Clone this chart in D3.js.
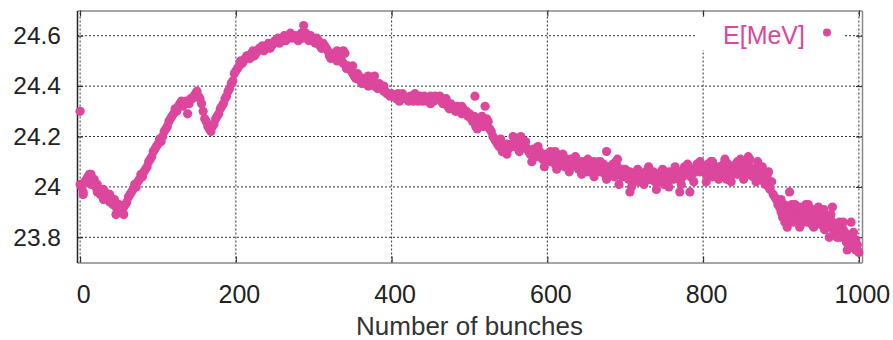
<!DOCTYPE html>
<html>
<head>
<meta charset="utf-8">
<script src="https://cdn.jsdelivr.net/npm/d3@7"></script>
<style>
  body { margin: 0; background: #fff; }
  text { font-family: "Liberation Sans", Arial, sans-serif; }
</style>
</head>
<body>
<div id="chart"></div>
<script>
// datos: energia por bunch, un valor cada 4 bunches (0..1000)
var paso = 4
var energia = [
  24.01,23.98,24.03,24.05,24.02,24.00,23.99,23.97,23.98,23.96,23.94,23.95,23.91,23.90,23.92,23.94,23.97,23.99,24.00,24.03,24.04,24.07,24.10,24.12,24.15,
  24.17,24.18,24.22,24.24,24.27,24.29,24.30,24.33,24.32,24.34,24.33,24.35,24.37,24.36,24.33,24.27,24.24,24.22,24.25,24.28,24.31,24.33,24.36,24.39,24.42,
  24.46,24.48,24.49,24.51,24.52,24.53,24.52,24.54,24.55,24.54,24.56,24.55,24.57,24.58,24.57,24.59,24.58,24.60,24.59,24.60,24.58,24.61,24.60,24.59,24.60,
  24.58,24.59,24.56,24.57,24.55,24.52,24.53,24.51,24.52,24.50,24.53,24.48,24.46,24.44,24.45,24.42,24.43,24.41,24.43,24.42,24.40,24.41,24.39,24.38,24.37,
  24.37,24.36,24.37,24.35,24.36,24.35,24.36,24.34,24.35,24.36,24.34,24.35,24.34,24.35,24.36,24.35,24.34,24.33,24.32,24.33,24.31,24.32,24.30,24.31,24.30,
  24.29,24.26,24.24,24.27,24.28,24.25,24.26,24.22,24.19,24.17,24.16,24.15,24.17,24.16,24.17,24.18,24.19,24.18,24.16,24.14,24.13,24.14,24.12,24.13,24.11,
  24.12,24.10,24.11,24.13,24.10,24.09,24.11,24.08,24.10,24.09,24.07,24.10,24.08,24.09,24.07,24.10,24.08,24.06,24.09,24.07,24.05,24.08,24.10,24.06,24.04,
  24.07,24.03,24.05,24.02,24.06,24.04,24.02,24.05,24.03,24.06,24.04,24.02,24.05,24.03,24.06,24.04,24.07,24.03,24.05,24.08,24.06,24.04,24.07,24.09,24.06,
  24.08,24.05,24.07,24.04,24.06,24.08,24.05,24.07,24.09,24.06,24.08,24.05,24.07,24.10,24.06,24.08,24.04,24.06,24.03,24.05,24.01,24.00,24.02,23.96,23.93,
  23.90,23.93,23.88,23.91,23.86,23.90,23.92,23.87,23.90,23.88,23.91,23.86,23.89,23.85,23.88,23.84,23.87,23.82,23.85,23.80,23.83,23.78,23.80,23.76,23.75,
  23.74
]
// segunda lectura, bunches 2, 6, 10 ... 998
var energia2 = [
  24.00,24.02,24.04,24.01,24.03,23.98,23.97,23.99,23.96,23.97,23.93,23.92,23.93,23.91,23.93,23.96,23.98,24.01,24.02,24.05,24.06,24.08,24.11,24.14,24.16,
  24.19,24.20,24.23,24.26,24.28,24.31,24.32,24.34,24.33,24.29,24.35,24.36,24.38,24.35,24.30,24.26,24.23,24.24,24.27,24.29,24.32,24.35,24.38,24.41,24.45,
  24.47,24.50,24.50,24.52,24.51,24.54,24.53,24.55,24.56,24.55,24.57,24.56,24.58,24.59,24.58,24.60,24.59,24.61,24.60,24.59,24.60,24.59,24.61,24.58,24.59,
  24.57,24.58,24.55,24.56,24.54,24.51,24.52,24.50,24.51,24.49,24.47,24.47,24.45,24.43,24.44,24.41,24.42,24.40,24.41,24.40,24.39,24.40,24.38,24.37,24.36,
  24.36,24.35,24.36,24.37,24.35,24.34,24.35,24.36,24.34,24.35,24.36,24.34,24.36,24.34,24.35,24.36,24.33,24.34,24.31,24.32,24.30,24.31,24.29,24.30,24.28,
  24.27,24.28,24.25,24.26,24.24,24.27,24.23,24.20,24.18,24.16,24.14,24.16,24.15,24.17,24.16,24.19,24.17,24.17,24.15,24.13,24.15,24.12,24.14,24.11,24.13,
  24.11,24.12,24.09,24.11,24.12,24.08,24.10,24.11,24.08,24.10,24.08,24.07,24.10,24.06,24.09,24.07,24.10,24.07,24.05,24.08,24.06,24.04,24.08,24.05,24.07,
  24.05,24.06,24.03,24.04,24.02,24.05,24.06,24.03,24.04,24.02,24.05,24.06,24.04,24.02,24.05,24.03,24.05,24.06,24.04,24.06,24.07,24.05,24.06,24.08,24.07,
  24.07,24.09,24.06,24.08,24.05,24.07,24.09,24.06,24.07,24.05,24.09,24.07,24.06,24.08,24.05,24.07,24.05,24.08,24.04,24.02,24.04,23.99,23.97,23.95,23.92,
  23.88,23.91,23.89,23.93,23.88,23.87,23.90,23.89,23.86,23.90,23.88,23.90,23.87,23.89,23.86,23.85,23.86,23.83,23.84,23.81,23.82,23.79,23.77,23.78,23.75
]
// puntos sueltos (dispersion y outliers): bunch, energia
var extraX = [0,287,338,378,507,520,566,610,650,676,690,706,730,750,770,783,810,830,848,858,870,876,882,905,911,918,925,935,942,955,962,966,975,985,990,993,998,
  4,14,22,30,38,46,56,330,350,370,390,410,430,450,470,490,510,
  540,548,556,564,572,580,588,596,604,612,620,628,636,644,652,660,668,676,684,692,700,708,716,724,732,740,748,756,764,772,780,788,796,
  804,812,820,828,836,844,852,860,868,876,884,900,908,916,924,932,940,948,956,964,972,980,988,996]
var extraE = [24.30,24.64,24.54,24.44,24.36,24.32,24.20,24.14,24.06,24.14,24.11,23.98,24.08,24.01,23.98,23.98,24.10,24.03,24.11,24.12,24.10,24.08,24.05,23.86,23.98,23.93,23.85,23.93,23.84,23.91,23.80,23.92,23.86,23.75,23.86,23.82,23.77,
  23.97,24.05,24.01,23.95,23.94,23.89,23.89,24.54,24.48,24.44,24.40,24.34,24.37,24.33,24.35,24.32,24.23,
  24.19,24.13,24.20,24.14,24.18,24.10,24.16,24.08,24.14,24.07,24.13,24.06,24.12,24.05,24.11,24.04,24.10,24.03,24.09,24.01,24.06,24.00,24.07,24.01,24.06,23.99,24.07,24.00,24.08,24.01,24.09,24.02,24.10,
  24.02,24.10,24.03,24.11,24.02,24.10,24.03,24.11,24.02,24.07,24.06,23.95,23.84,23.93,23.84,23.93,23.85,23.92,23.83,23.89,23.80,23.86,23.76,23.79]

var xTicks = [0,200,400,600,800,1000]
var yTicks = [23.8,24,24.2,24.4,24.6]
var serie = "E[MeV]"
var color = "#dc469c"

var data = []
for (var i = 0; i < energia.length; i++) data.push({x: i*paso, e: energia[i]})
for (var k = 0; k < energia2.length; k++) data.push({x: 2 + k*paso, e: energia2[k]})
for (var j = 0; j < extraX.length; j++) data.push({x: extraX[j], e: extraE[j]})

var width = 893, height = 340
var margin = {top: 10.5, right: 31, bottom: 77.5, left: 77}

var eX = d3.scaleLinear().domain([-4, 1004]).range([margin.left, width-margin.right])
var eY = d3.scaleLinear().domain([23.7, 24.7]).range([height-margin.bottom, margin.top])

var svg = d3.select("#chart").append("svg")
  .attr("width", width)
  .attr("height", height)

// rejilla punteada
svg.append("g").selectAll("line").data(xTicks).enter().append("line")
  .attr("x1", d => eX(d)).attr("x2", d => eX(d))
  .attr("y1", eY.range()[0]).attr("y2", eY.range()[1])
  .attr("stroke", "#333").attr("stroke-width", 1).attr("stroke-dasharray", "2,2")
svg.append("g").selectAll("line").data(yTicks).enter().append("line")
  .attr("x1", eX.range()[0]).attr("x2", eX.range()[1])
  .attr("y1", d => eY(d)).attr("y2", d => eY(d))
  .attr("stroke", "#333").attr("stroke-width", 1).attr("stroke-dasharray", "2,2")

// ticks hacia dentro en los cuatro lados
var xAxisB = d3.axisBottom(eX).tickValues(xTicks).tickSizeInner(-6).tickSizeOuter(0).tickFormat(d => d)
var xAxisT = d3.axisTop(eX).tickValues(xTicks).tickSizeInner(-6).tickSizeOuter(0).tickFormat("")
var yAxisL = d3.axisLeft(eY).tickValues(yTicks).tickSizeInner(-6).tickSizeOuter(0).tickFormat(d => d)
var yAxisR = d3.axisRight(eY).tickValues(yTicks).tickSizeInner(-6).tickSizeOuter(0).tickFormat("")

var gxb = svg.append("g").attr("transform", "translate(0," + eY.range()[0] + ")").call(xAxisB)
var gxt = svg.append("g").attr("transform", "translate(0," + eY.range()[1] + ")").call(xAxisT)
var gyl = svg.append("g").attr("transform", "translate(" + eX.range()[0] + ",0)").call(yAxisL)
var gyr = svg.append("g").attr("transform", "translate(" + eX.range()[1] + ",0)").call(yAxisR)

gxb.select(".domain").attr("stroke", "#888").attr("stroke-width", 1.5)
gxt.select(".domain").attr("stroke", "#888").attr("stroke-width", 1.5)
gyl.select(".domain").attr("stroke", "#222").attr("stroke-width", 1.5)
gyr.select(".domain").attr("stroke", "#888").attr("stroke-width", 1.5)
svg.selectAll(".tick line").attr("stroke", "#222")

gxb.selectAll(".tick text")
  .attr("y", 23).attr("dy", "0.71em").attr("dx", 3)
  .attr("font-size", 25).attr("fill", "#222")
gyl.selectAll(".tick text")
  .attr("x", -16).attr("font-size", 24.5).attr("fill", "#222")
svg.selectAll(".tick text").style("font-family", "Liberation Sans, Arial, sans-serif")

// titulo eje X
svg.append("text")
  .attr("x", (eX.range()[0]+eX.range()[1])/2)
  .attr("y", 335)
  .attr("text-anchor", "middle")
  .attr("font-size", 26)
  .attr("fill", "#333")
  .text("Number of bunches")

// puntos
svg.append("g").selectAll("circle").data(data).enter().append("circle")
  .attr("cx", d => eX(d.x))
  .attr("cy", d => eY(d.e))
  .attr("r", 4.6)
  .attr("fill", color)

// leyenda
var leg = svg.append("g")
leg.append("rect")
  .attr("x", 697).attr("y", 17).attr("width", 148).attr("height", 33)
  .attr("fill", "#fff")
leg.append("text")
  .attr("x", 805).attr("y", 44)
  .attr("text-anchor", "end")
  .attr("font-size", 25)
  .attr("fill", color)
  .text(serie)
leg.append("circle")
  .attr("cx", 827).attr("cy", 32.5).attr("r", 4)
  .attr("fill", color)
</script>
</body>
</html>
